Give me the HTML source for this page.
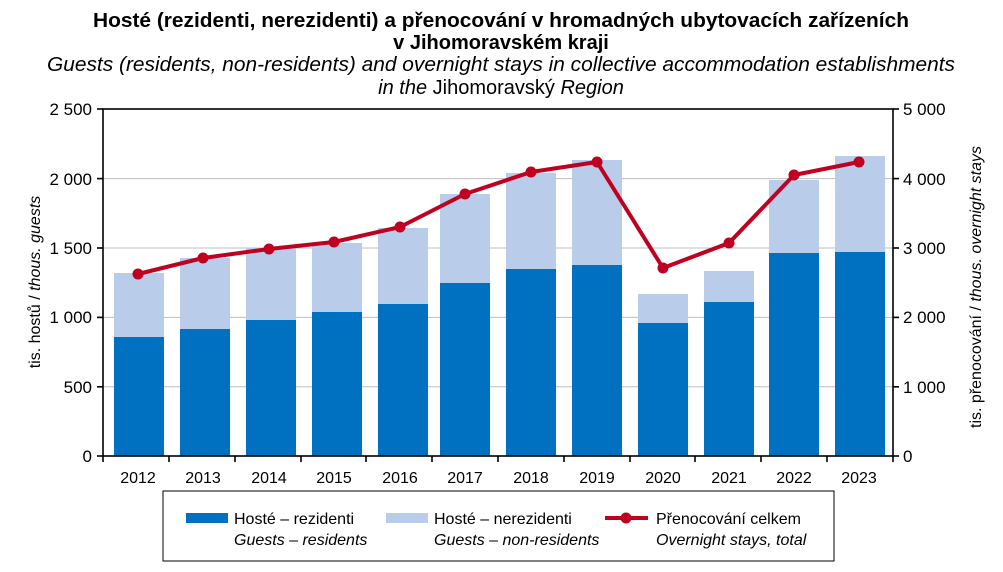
<!DOCTYPE html>
<html><head><meta charset="utf-8"><style>
body{margin:0;background:#fff;}
svg{display:block;font-family:"Liberation Sans",Arial,sans-serif;}
</style></head><body>
<svg width="1003" height="572" viewBox="0 0 1003 572" xmlns="http://www.w3.org/2000/svg">
<rect width="1003" height="572" fill="#fff"/>
<g text-anchor="middle" font-size="20">
<text x="501" y="27" font-weight="bold" textLength="816" lengthAdjust="spacingAndGlyphs">Hosté (rezidenti, nerezidenti) a přenocování v hromadných ubytovacích zařízeních</text>
<text x="501" y="49" font-weight="bold">v Jihomoravském kraji</text>
<text x="501" y="71" font-style="italic" textLength="908" lengthAdjust="spacingAndGlyphs">Guests (residents, non-residents) and overnight stays in collective accommodation establishments</text>
<text x="501" y="94"><tspan font-style="italic">in the </tspan>Jihomoravský<tspan font-style="italic"> Region</tspan></text>
</g>
<g stroke="#bfbfbf" stroke-width="1">
<line x1="103" y1="178.6" x2="893" y2="178.6"/>
<line x1="103" y1="248" x2="893" y2="248"/>
<line x1="103" y1="317.4" x2="893" y2="317.4"/>
<line x1="103" y1="386.8" x2="893" y2="386.8"/>
</g>
<g id="bars">
<rect x="114" y="273" width="50" height="183" fill="#b9cce9"/><rect x="114" y="337" width="50" height="119" fill="#0070c0"/>
<rect x="180" y="258" width="50" height="198" fill="#b9cce9"/><rect x="180" y="329" width="50" height="127" fill="#0070c0"/>
<rect x="246" y="248" width="50" height="208" fill="#b9cce9"/><rect x="246" y="320" width="50" height="136" fill="#0070c0"/>
<rect x="312" y="243" width="50" height="213" fill="#b9cce9"/><rect x="312" y="312" width="50" height="144" fill="#0070c0"/>
<rect x="378" y="228" width="50" height="228" fill="#b9cce9"/><rect x="378" y="304" width="50" height="152" fill="#0070c0"/>
<rect x="440" y="194" width="50" height="262" fill="#b9cce9"/><rect x="440" y="283" width="50" height="173" fill="#0070c0"/>
<rect x="506" y="173" width="50" height="283" fill="#b9cce9"/><rect x="506" y="269" width="50" height="187" fill="#0070c0"/>
<rect x="572" y="160" width="50" height="296" fill="#b9cce9"/><rect x="572" y="265" width="50" height="191" fill="#0070c0"/>
<rect x="638" y="294" width="50" height="162" fill="#b9cce9"/><rect x="638" y="323" width="50" height="133" fill="#0070c0"/>
<rect x="704" y="271" width="50" height="185" fill="#b9cce9"/><rect x="704" y="302" width="50" height="154" fill="#0070c0"/>
<rect x="769" y="180" width="50" height="276" fill="#b9cce9"/><rect x="769" y="253" width="50" height="203" fill="#0070c0"/>
<rect x="835" y="156" width="50" height="300" fill="#b9cce9"/><rect x="835" y="252" width="50" height="204" fill="#0070c0"/>
</g>
<rect x="103" y="109" width="790" height="347" fill="none" stroke="#000" stroke-width="1.6"/>
<g stroke="#000" stroke-width="1.6">
<line x1="97" y1="109" x2="103" y2="109"/><line x1="97" y1="178.6" x2="103" y2="178.6"/><line x1="97" y1="248" x2="103" y2="248"/><line x1="97" y1="317.4" x2="103" y2="317.4"/><line x1="97" y1="386.8" x2="103" y2="386.8"/><line x1="97" y1="456" x2="103" y2="456"/>
<line x1="893" y1="109" x2="899" y2="109"/><line x1="893" y1="178.6" x2="899" y2="178.6"/><line x1="893" y1="248" x2="899" y2="248"/><line x1="893" y1="317.4" x2="899" y2="317.4"/><line x1="893" y1="386.8" x2="899" y2="386.8"/><line x1="893" y1="456" x2="899" y2="456"/>
<line x1="103" y1="456" x2="103" y2="462"/><line x1="169" y1="456" x2="169" y2="462"/><line x1="235" y1="456" x2="235" y2="462"/><line x1="301" y1="456" x2="301" y2="462"/><line x1="366" y1="456" x2="366" y2="462"/><line x1="432" y1="456" x2="432" y2="462"/><line x1="498" y1="456" x2="498" y2="462"/><line x1="564" y1="456" x2="564" y2="462"/><line x1="630" y1="456" x2="630" y2="462"/><line x1="695" y1="456" x2="695" y2="462"/><line x1="761" y1="456" x2="761" y2="462"/><line x1="827" y1="456" x2="827" y2="462"/><line x1="893" y1="456" x2="893" y2="462"/>
</g>
<polyline fill="none" stroke="#c00020" stroke-width="4" stroke-linejoin="round" points="138,274 203,258 269,249 334,242 400,227 465,194 531,172 597,162 663,268 729,243 794,175 859,162"/>
<g fill="#c00020">
<circle cx="138" cy="274" r="5.5"/><circle cx="203" cy="258" r="5.5"/><circle cx="269" cy="249" r="5.5"/><circle cx="334" cy="242" r="5.5"/><circle cx="400" cy="227" r="5.5"/><circle cx="465" cy="194" r="5.5"/><circle cx="531" cy="172" r="5.5"/><circle cx="597" cy="162" r="5.5"/><circle cx="663" cy="268" r="5.5"/><circle cx="729" cy="243" r="5.5"/><circle cx="794" cy="175" r="5.5"/><circle cx="859" cy="162" r="5.5"/>
</g>
<g font-size="17" text-anchor="end">
<text x="92" y="115">2 500</text><text x="92" y="185">2 000</text><text x="92" y="254">1 500</text><text x="92" y="323">1 000</text><text x="92" y="393">500</text><text x="92" y="462">0</text>
</g>
<g font-size="17" text-anchor="start">
<text x="903" y="115">5 000</text><text x="903" y="185">4 000</text><text x="903" y="254">3 000</text><text x="903" y="323">2 000</text><text x="903" y="393">1 000</text><text x="903" y="462">0</text>
</g>
<g font-size="16" text-anchor="middle">
<text x="138" y="483">2012</text><text x="203" y="483">2013</text><text x="269" y="483">2014</text><text x="334" y="483">2015</text><text x="400" y="483">2016</text><text x="465" y="483">2017</text><text x="531" y="483">2018</text><text x="597" y="483">2019</text><text x="663" y="483">2020</text><text x="729" y="483">2021</text><text x="794" y="483">2022</text><text x="859" y="483">2023</text>
</g>
<text transform="translate(40,282) rotate(-90)" font-size="16" text-anchor="middle">tis. hostů / <tspan font-style="italic">thous. guests</tspan></text>
<text transform="translate(981,287) rotate(-90)" font-size="16" text-anchor="middle">tis. přenocování / <tspan font-style="italic">thous. overnight stays</tspan></text>
<rect x="163" y="491" width="671" height="70" fill="#fff" stroke="#000" stroke-width="1"/>
<rect x="186" y="513" width="42" height="10" fill="#0070c0"/>
<rect x="386" y="513" width="42" height="10" fill="#b9cce9"/>
<line x1="605" y1="518" x2="648" y2="518" stroke="#c00020" stroke-width="4"/>
<circle cx="626" cy="518" r="5.5" fill="#c00020"/>
<g font-size="16">
<text x="234" y="524">Hosté – rezidenti</text>
<text x="234" y="545" font-style="italic">Guests – residents</text>
<text x="434" y="524">Hosté – nerezidenti</text>
<text x="434" y="545" font-style="italic">Guests – non-residents</text>
<text x="656" y="524">Přenocování celkem</text>
<text x="656" y="545" font-style="italic">Overnight stays, total</text>
</g>
</svg>
</body></html>
